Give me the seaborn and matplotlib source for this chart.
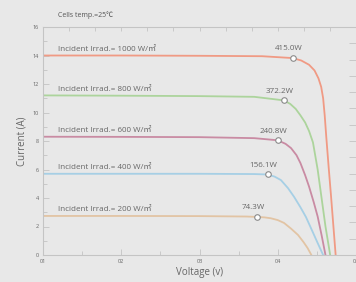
import matplotlib
matplotlib.use("Agg")
import matplotlib.pyplot as plt
import seaborn as sns
import pandas as pd
from matplotlib.ticker import MultipleLocator

# voltage (V) / current (A) per irradiance level
v_1000 = [0, 10, 20, 28, 31.9, 33.0, 34.0, 34.7, 35.2, 35.55, 35.8, 36.0, 36.2, 36.5, 36.8, 37.1, 37.4]
i_1000 = [14.0, 14.0, 13.98, 13.95, 13.82, 13.65, 13.35, 12.95, 12.4, 11.8, 11.0, 9.8, 8.3, 6.2, 4.2, 2.1, 0]
v_800 = [0, 10, 20, 27, 30.8, 31.6, 32.3, 32.9, 33.5, 34.0, 34.5, 35.1, 35.6, 36.1, 36.7]
i_800 = [11.2, 11.18, 11.15, 11.1, 10.85, 10.6, 10.25, 9.8, 9.3, 8.7, 7.9, 6.0, 4.0, 2.0, 0]
v_600 = [0, 10, 20, 27, 30.0, 31.0, 31.7, 32.4, 32.9, 33.5, 34.0, 34.6, 35.1, 35.6, 36.1]
i_600 = [8.3, 8.29, 8.27, 8.2, 8.05, 7.8, 7.5, 7.0, 6.45, 5.6, 4.8, 3.7, 2.7, 1.4, 0]
v_400 = [0, 10, 20, 27, 28.7, 29.6, 30.4, 31.3, 32.1, 32.9, 33.6, 34.4, 35.1, 35.8]
i_400 = [5.7, 5.7, 5.7, 5.68, 5.65, 5.5, 5.26, 4.7, 4.07, 3.35, 2.67, 1.7, 0.84, 0]
v_200 = [0, 10, 20, 26, 27.4, 28.3, 29.1, 30.0, 30.8, 31.7, 32.6, 33.3, 33.8, 34.3]
i_200 = [2.74, 2.74, 2.73, 2.7, 2.67, 2.64, 2.58, 2.45, 2.25, 1.85, 1.4, 0.9, 0.5, 0]

irrad = ["1000", "800", "600", "400", "200"]
levels = [14.0, 11.2, 8.3, 5.7, 2.74]
mpp_v = [31.9, 30.8, 30.0, 28.7, 27.4]
mpp_i = [13.82, 10.85, 8.05, 5.65, 2.67]
mpp_w = ["415.0W", "372.2W", "240.8W", "156.1W", "74.3W"]
colores = ["#f09a84", "#acd49c", "#c98ba3", "#a6cfe5", "#e2c4a4"]

xticks = [0, 10, 20, 30, 40]
xlabels = ["01", "02", "03", "04", "05"]
yticks = [0, 2, 4, 6, 8, 10, 12, 14, 16]

curvas = {"1000": (v_1000, i_1000), "800": (v_800, i_800), "600": (v_600, i_600),
          "400": (v_400, i_400), "200": (v_200, i_200)}
df = pd.concat([pd.DataFrame({"V": v, "I": i, "irrad": k}) for k, (v, i) in curvas.items()])

sns.set_style("white")
plt.rcParams["font.family"] = ["Open Sans", "Noto Sans CJK SC", "DejaVu Sans"]
fundo = "#e8e8e8"
cinza = "#c4c4c4"
texto = "#666666"

fig = plt.figure(figsize=(3.56, 2.82), dpi=100, facecolor=fundo)
ax = fig.add_axes([43 / 356, 27 / 282, 313 / 356, 228 / 282], facecolor=fundo)

sns.lineplot(data=df, x="V", y="I", hue="irrad", hue_order=irrad, palette=colores,
             estimator=None, sort=False, linewidth=1.3, legend=False, ax=ax)
ax.scatter(mpp_v, mpp_i, s=16, facecolor="white", edgecolor="#8a8a8a", linewidth=0.8, zorder=5)

for k, nivel, c in zip(irrad, levels, colores):
    ax.text(1.9, nivel + 0.2, f"Incident Irrad.= {k} W/㎡", fontsize=5.8, color=texto,
            ha="left", va="bottom")
for v, i, w in zip(mpp_v, mpp_i, mpp_w):
    ax.text(v - 0.5, i + 0.4, w, fontsize=5.8, color=texto, ha="center", va="bottom")

ax.set_xlim(0, 40)
ax.set_ylim(0, 16)
ax.set_xticks(xticks)
ax.set_xticklabels(xlabels)
ax.set_yticks(yticks)
ax.xaxis.set_minor_locator(MultipleLocator(5))
ax.yaxis.set_minor_locator(MultipleLocator(1))
ax.tick_params(which="both", direction="in", color=cinza, width=0.6, labelsize=4,
               labelcolor=texto, pad=3)
ax.tick_params(which="major", length=4)
ax.tick_params(which="minor", length=3)
for lado in ["left", "bottom", "top"]:
    ax.spines[lado].set_color(cinza)
    ax.spines[lado].set_linewidth(0.8)
ax.spines["right"].set_visible(False)

ax.set_xlabel("Voltage (v)", fontsize=7, color=texto, labelpad=2)
ax.set_ylabel("Current (A)", fontsize=7, color=texto, labelpad=4)

# ticks sem rotulo no topo e na direita
topo = ax.twiny()
topo.set_xlim(0, 12)
topo.set_xticks(range(13))
topo.tick_params(direction="in", color=cinza, length=3, width=0.6, labeltop=False)
direita = ax.twinx()
direita.set_ylim(0, 14)
direita.set_yticks(range(15))
direita.tick_params(direction="in", color=cinza, length=5, width=0.6, labelright=False)
for t in (topo, direita):
    for s in t.spines.values():
        s.set_visible(False)

fig.text(58 / 356, 1 - 15 / 282, "Cells temp.=25℃", fontsize=5, color="#555555",
         ha="left", va="center")

fig.savefig("out.png", dpi=100, facecolor=fundo)
